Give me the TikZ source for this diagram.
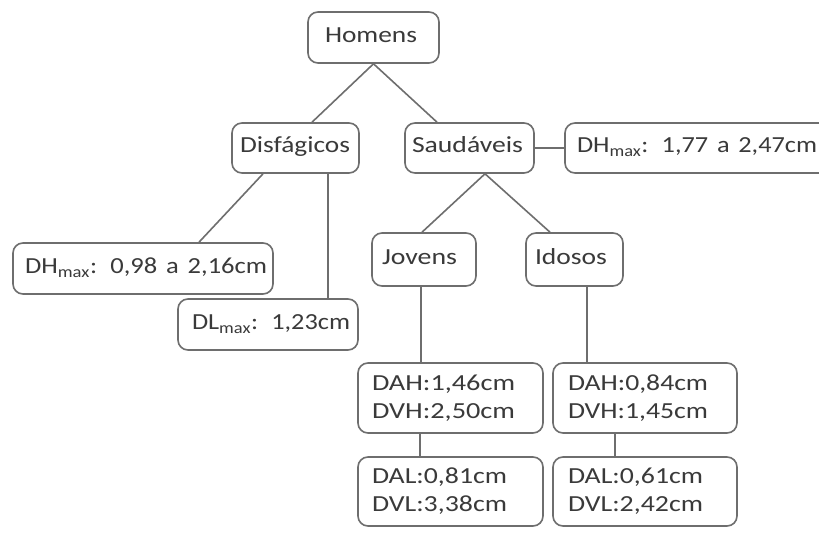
\documentclass[tikz,border=0pt]{standalone}
\usepackage{fontspec}
\usepackage{graphicx}
\setmainfont{Carlito}
\usetikzlibrary{calc}
\definecolor{edge}{HTML}{6E6E6E}
\definecolor{ink}{HTML}{3A3A3A}
\newcommand{\wtxt}[2]{\resizebox{#1pt}{\height}{#2}}
\begin{document}
\begin{tikzpicture}[x=1pt,y=-1pt,
  box/.style={draw=edge, line width=1.6pt, rounded corners=10pt, text=ink,
    font=\fontsize{23}{28}\selectfont, align=left, inner ysep=0pt},
  one/.style={text height=14.5pt, text depth=4.5pt},
  link/.style={draw=edge, line width=1.6pt}]
\useasboundingbox[fill=white] (0,0) rectangle (819,540);
% nodes
\node[box, one, minimum width=131pt, minimum height=51pt, inner xsep=17pt, text width=97pt] (homens) at (373.5,37.5) {\wtxt{92}{Homens}};
\node[box, one, minimum width=127pt, minimum height=50pt, inner xsep=8pt, text width=111pt] (disf) at (295.5,148) {\wtxt{110}{Disfágicos}};
\node[box, one, minimum width=129pt, minimum height=50pt, inner xsep=7pt, text width=115pt] (saud) at (469.5,148) {\wtxt{111}{Saudáveis}};
\node[box, one, minimum width=264pt, minimum height=50pt, inner xsep=12pt, text width=240pt] (dhs) at (697,148) {\wtxt{240}{DH\textsubscript{max}: 1,77 a 2,47cm}};
\node[box, one, minimum width=260pt, minimum height=51pt, inner xsep=12pt, text width=236pt] (dhd) at (143,268.5) {\wtxt{242}{DH\textsubscript{max}: 0,98 a 2,16cm}};
\node[box, one, minimum width=180pt, minimum height=51pt, inner xsep=14pt, text width=152pt] (dld) at (268,324.5) {\wtxt{158}{DL\textsubscript{max}: 1,23cm}};
\node[box, one, minimum width=104pt, minimum height=53pt, inner xsep=10pt, text width=84pt] (jov) at (424,259.5) {\wtxt{75}{Jovens}};
\node[box, one, minimum width=97pt, minimum height=53pt, inner xsep=9pt, text width=79pt] (ido) at (574.5,259.5) {\wtxt{72}{Idosos}};
\node[box, minimum width=185pt, minimum height=70pt, inner xsep=14pt, text width=157pt] (jh) at (450.5,398) {\wtxt{143}{DAH:1,46cm}\\\wtxt{143}{DVH:2,50cm}};
\node[box, minimum width=184pt, minimum height=70pt, inner xsep=15pt, text width=154pt] (ih) at (645,398) {\wtxt{140}{DAH:0,84cm}\\\wtxt{140}{DVH:1,45cm}};
\node[box, minimum width=185pt, minimum height=69pt, inner xsep=14pt, text width=157pt] (jl) at (450.5,491.5) {\wtxt{135}{DAL:0,81cm}\\\wtxt{135}{DVL:3,38cm}};
\node[box, minimum width=184pt, minimum height=69pt, inner xsep=15pt, text width=154pt] (il) at (645,491.5) {\wtxt{135}{DAL:0,61cm}\\\wtxt{135}{DVL:2,42cm}};
% connectors
\draw[link] (homens.south) -- ($(disf.north)+(16.5,0)$);
\draw[link] (homens.south) -- ($(saud.north)+(-32.5,0)$);
\draw[link] (saud.east) -- (dhs.west);
\draw[link] ($(disf.south)+(-32.5,0)$) -- ($(dhd.north)+(56,0)$);
\draw[link] ($(disf.south)+(32.5,0)$) -- ($(disf.south |- dld.north)+(32.5,0)$);
\draw[link] ($(saud.south)+(15.5,0)$) -- ($(jov.north)+(-2,0)$);
\draw[link] ($(saud.south)+(15.5,0)$) -- ($(ido.north)+(-24.5,0)$);
\draw[link] ($(jov.south)+(-3,0)$) -- ($(jov.south |- jh.north)+(-3,0)$);
\draw[link] ($(ido.south)+(12.5,0)$) -- ($(ido.south |- ih.north)+(12.5,0)$);
\draw[link] ($(jh.south)+(-30.5,0)$) -- ($(jh.south |- jl.north)+(-30.5,0)$);
\draw[link] ($(ih.south)+(-30,0)$) -- ($(ih.south |- il.north)+(-30,0)$);
\end{tikzpicture}
\end{document}
